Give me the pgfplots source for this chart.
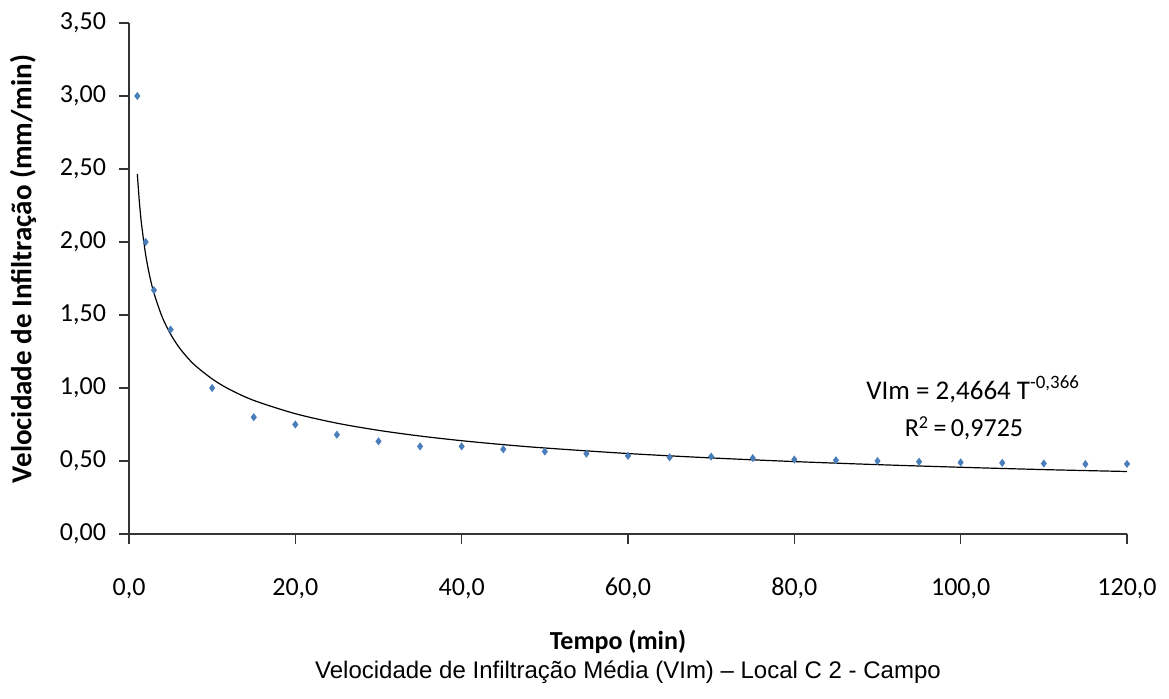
\documentclass[border=0pt]{standalone}
\usepackage{pgfplots}
\pgfplotsset{compat=1.18}
\usepackage{fontspec}
\setmainfont{Carlito}
\newfontfamily\arialfont{Liberation Sans}
\definecolor{ptblue}{HTML}{4A7EBB}
\begin{document}
\begin{tikzpicture}
\begin{axis}[
  at={(0,0)}, anchor=origin,
  scale only axis, width=499pt, height=255.5pt,
  xmin=0, xmax=120, ymin=0, ymax=3.5,
  axis x line=bottom, axis y line=left,
  axis line style={-, line width=0.6pt, black!80},
  xtick={0,20,...,120}, ytick={0,0.5,...,3.5},
  tick align=outside, major tick length=5pt,
  tick style={line width=0.6pt, black!80},
  minor tick num=0,
  /pgf/number format/assume math mode=true,
  xticklabel style={/pgf/number format/.cd, use comma, fixed, fixed zerofill, precision=1, /tikz/.cd, font=\fontsize{13}{15}\selectfont, text height=9pt, text depth=2pt, yshift=-13pt},
  yticklabel style={/pgf/number format/.cd, use comma, fixed, fixed zerofill, precision=2, /tikz/.cd, font=\fontsize{13}{15}\selectfont, xshift=-3pt},
  clip=false,
]
\addplot[only marks, mark=diamond*, mark size=1.7pt, color=ptblue] coordinates {
(1,3.00) (2,2.00) (3,1.67) (5,1.40) (10,1.00) (15,0.80) (20,0.75) (25,0.68)
(30,0.635) (35,0.60) (40,0.60) (45,0.58) (50,0.565) (55,0.55) (60,0.535)
(65,0.525) (70,0.53) (75,0.52) (80,0.51) (85,0.505) (90,0.50) (95,0.495)
(100,0.49) (105,0.487) (110,0.483) (115,0.479) (120,0.48)
};
\addplot[black, line width=0.6pt, smooth, mark=none] coordinates {
(1,2.466) (1.25,2.273) (1.5,2.126) (2,1.914) (2.5,1.764) (3,1.650) (4,1.485)
(5,1.369) (6,1.280) (7,1.210) (8,1.152) (10,1.062) (12,0.993) (15,0.915)
(20,0.824) (25,0.759) (30,0.710) (35,0.671) (40,0.639) (45,0.612) (50,0.589)
(60,0.551) (70,0.521) (80,0.496) (90,0.475) (100,0.457) (110,0.441) (120,0.428)
};
\node[font=\fontsize{13.5}{15}\selectfont] at (axis cs:101.5,0.99) {VIm = 2,4664 T\textsuperscript{-0,366}};
\node[font=\fontsize{13}{15}\selectfont] at (axis cs:100.4,0.725) {R\textsuperscript{2}\,=\,0,9725};
\node[font=\bfseries\fontsize{13}{15}\selectfont] at (axis cs:58.8,-0.74) {Tempo (min)};
\node[font=\arialfont\fontsize{12}{14}\selectfont] at (axis cs:60,-0.95) {Velocidade de Infiltração Média (VIm) – Local C 2 - Campo};
\node[font=\bfseries\fontsize{14.5}{16}\selectfont, rotate=90] at (-53pt,132.5pt) {Velocidade de Infiltração (mm/min)};
\end{axis}
\pgfresetboundingbox
\path (-64.5pt,-82.5pt) rectangle (520pt,267pt);
\end{tikzpicture}
\end{document}
